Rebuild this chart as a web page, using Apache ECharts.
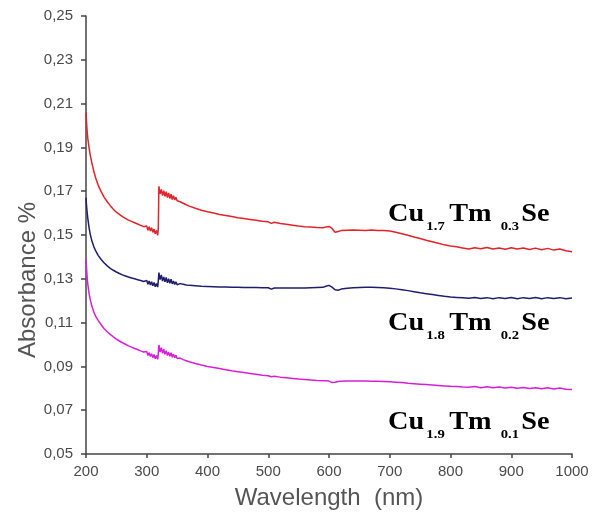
<!DOCTYPE html>
<html>
<head>
<meta charset="utf-8">
<title>Absorbance spectra</title>
<script src="https://cdn.jsdelivr.net/npm/echarts@6/dist/echarts.min.js"></script>
<style>
  html, body { margin: 0; padding: 0; background: #fff; }
  #chart { width: 595px; height: 515px; }
</style>
</head>
<body>
<div id="chart"></div>
<script>
// Wavelength grid (nm), shared by the three spectra
const wavelength = [
  200, 201, 202, 203, 205, 207, 210, 213, 216, 220, 225, 230, 235, 240, 245, 250, 255, 260, 265, 270, 275, 280, 285, 290, 295,
  300, 302, 304, 306, 308, 310, 312, 314, 316, 318, 319, 320, 322, 324, 326, 328, 330, 332, 334, 336, 338, 340, 342, 344, 346, 348, 350,
  355, 360, 365, 370, 380, 390, 400, 410, 420, 430, 440, 450, 460, 470, 480, 490, 500, 505, 510, 520, 530, 540, 550, 560, 570, 580, 590, 595,
  600, 605, 610, 615, 620, 630, 640, 650, 660, 670, 680, 690, 700, 710, 720, 730, 740, 750, 760, 770, 780, 790,
  800, 810, 820, 830, 840, 850, 860, 870, 880, 890, 900, 910, 920, 930, 940, 950, 960, 970, 980, 990, 1000
];

// Cu1.7Tm0.3Se absorbance
const cu17tm03 = [
  0.2060, 0.2010, 0.1970, 0.1940, 0.1900, 0.1865, 0.1825, 0.1790, 0.1760, 0.1728, 0.1698, 0.1672, 0.1652, 0.1634, 0.1618, 0.1604, 0.1594, 0.1584, 0.1576, 0.1568, 0.1562, 0.1556, 0.1550, 0.1544, 0.1538,
  0.1541, 0.1522, 0.1538, 0.1518, 0.1533, 0.1512, 0.1527, 0.1506, 0.1521, 0.1498, 0.1530, 0.1722, 0.1688, 0.1708, 0.1680, 0.1702, 0.1676, 0.1698, 0.1671, 0.1692, 0.1667, 0.1686, 0.1662, 0.1680, 0.1660, 0.1672, 0.1656,
  0.1652, 0.1645, 0.1638, 0.1632, 0.1622, 0.1613, 0.1606, 0.1600, 0.1594, 0.1589, 0.1584, 0.1579, 0.1575, 0.1571, 0.1567, 0.1563, 0.1560, 0.1553, 0.1558, 0.1553, 0.1549, 0.1545, 0.1541, 0.1538, 0.1536, 0.1534, 0.1533, 0.1537,
  0.1539, 0.1530, 0.1513, 0.1516, 0.1520, 0.1522, 0.1523, 0.1522, 0.1521, 0.1523, 0.1521, 0.1520, 0.1518, 0.1513, 0.1506, 0.1499, 0.1491, 0.1484, 0.1476, 0.1469, 0.1462, 0.1455,
  0.1450, 0.1446, 0.1441, 0.1436, 0.1442, 0.1437, 0.1443, 0.1436, 0.1441, 0.1435, 0.1442, 0.1436, 0.1441, 0.1434, 0.1440, 0.1433, 0.1439, 0.1431, 0.1436, 0.1428, 0.1424
];

// Cu1.8Tm0.2Se absorbance
const cu18tm02 = [
  0.1670, 0.1630, 0.1600, 0.1575, 0.1535, 0.1503, 0.1470, 0.1446, 0.1427, 0.1407, 0.1388, 0.1372, 0.1359, 0.1348, 0.1339, 0.1331, 0.1324, 0.1318, 0.1313, 0.1308, 0.1304, 0.1300, 0.1296, 0.1292, 0.1288,
  0.1292, 0.1275, 0.1290, 0.1272, 0.1287, 0.1268, 0.1283, 0.1264, 0.1279, 0.1262, 0.1290, 0.1328, 0.1296, 0.1318, 0.1290, 0.1308, 0.1286, 0.1306, 0.1282, 0.1300, 0.1279, 0.1298, 0.1277, 0.1290, 0.1274, 0.1286, 0.1273,
  0.1278, 0.1275, 0.1272, 0.1270, 0.1268, 0.1266, 0.1265, 0.1264, 0.1263, 0.1262, 0.1261, 0.1261, 0.1260, 0.1260, 0.1260, 0.1259, 0.1259, 0.1253, 0.1258, 0.1258, 0.1258, 0.1258, 0.1258, 0.1258, 0.1259, 0.1260, 0.1261, 0.1266,
  0.1270, 0.1262, 0.1250, 0.1248, 0.1253, 0.1257, 0.1259, 0.1260, 0.1261, 0.1261, 0.1260, 0.1259, 0.1257, 0.1254, 0.1250, 0.1246, 0.1241, 0.1236, 0.1232, 0.1228, 0.1224, 0.1220,
  0.1217, 0.1215, 0.1213, 0.1211, 0.1215, 0.1210, 0.1214, 0.1209, 0.1214, 0.1210, 0.1215, 0.1209, 0.1214, 0.1210, 0.1215, 0.1209, 0.1214, 0.1210, 0.1214, 0.1209, 0.1212
];

// Cu1.9Tm0.1Se absorbance
const cu19tm01 = [
  0.1390, 0.1345, 0.1305, 0.1275, 0.1235, 0.1205, 0.1172, 0.1148, 0.1128, 0.1110, 0.1090, 0.1072, 0.1058, 0.1046, 0.1035, 0.1025, 0.1016, 0.1008, 0.1001, 0.0994, 0.0988, 0.0982, 0.0977, 0.0971, 0.0966,
  0.0968, 0.0950, 0.0963, 0.0945, 0.0958, 0.0940, 0.0954, 0.0935, 0.0950, 0.0932, 0.0958, 0.0998, 0.0966, 0.0985, 0.0960, 0.0978, 0.0955, 0.0972, 0.0950, 0.0966, 0.0946, 0.0962, 0.0942, 0.0956, 0.0940, 0.0951, 0.0936,
  0.0938, 0.0931, 0.0926, 0.0921, 0.0913, 0.0906, 0.0900, 0.0895, 0.0890, 0.0885, 0.0880, 0.0876, 0.0872, 0.0868, 0.0864, 0.0860, 0.0857, 0.0853, 0.0855, 0.0851, 0.0848, 0.0845, 0.0842, 0.0840, 0.0838, 0.0836, 0.0835, 0.0834,
  0.0833, 0.0826, 0.0828, 0.0831, 0.0832, 0.0833, 0.0833, 0.0833, 0.0833, 0.0832, 0.0832, 0.0831, 0.0830, 0.0828, 0.0826, 0.0823, 0.0821, 0.0819, 0.0817, 0.0815, 0.0813, 0.0811,
  0.0809, 0.0808, 0.0806, 0.0805, 0.0808, 0.0803, 0.0807, 0.0802, 0.0806, 0.0801, 0.0805, 0.0800, 0.0804, 0.0799, 0.0803, 0.0798, 0.0802, 0.0797, 0.0801, 0.0796, 0.0795
];

// Axis ticks
const yTicks = [0.05, 0.07, 0.09, 0.11, 0.13, 0.15, 0.17, 0.19, 0.21, 0.23, 0.25];
const xTicks = [200, 300, 400, 500, 600, 700, 800, 900, 1000];

const pairs = (ys) => wavelength.map((w, i) => [w, ys[i]]);

// Sample name with subscripted stoichiometry
function formula(a, b) {
  return '{m|Cu}{s1|' + a + '}{m|Tm}{s2|' + b + '}{m|Se}';
}
const mainStyle = { fontFamily: 'Liberation Serif', fontWeight: 'bold', fontSize: 25, lineHeight: 36, color: '#111', verticalAlign: 'middle' };
const subStyle = { fontFamily: 'Liberation Serif', fontWeight: 'bold', fontSize: 13, lineHeight: 13, color: '#111', verticalAlign: 'bottom' };
const formulaRich = {
  m: mainStyle,
  s1: Object.assign({ padding: [0, 4, 0, 2] }, subStyle),
  s2: Object.assign({ padding: [0, 2, 0, 8] }, subStyle)
};

const chart = echarts.init(document.getElementById('chart'), null, { renderer: 'canvas' });

const axisText = { fontFamily: 'Liberation Sans', fontSize: 15, color: '#4a4a4a' };

function formulaLabel(y, a, b) {
  return {
    type: 'text', x: 388, y: y, scaleX: 1.13,
    style: { text: formula(a, b), rich: formulaRich, verticalAlign: 'middle' }
  };
}

chart.setOption({
  animation: false,
  backgroundColor: '#ffffff',
  grid: { left: 86, right: 23, top: 16, bottom: 61, containLabel: false },
  xAxis: {
    type: 'value',
    min: 200,
    max: 1000,
    interval: 100,
    name: 'Wavelength  (nm)',
    nameLocation: 'middle',
    nameGap: 32,
    nameTextStyle: { fontFamily: 'Liberation Sans', fontSize: 24, color: '#555' },
    axisLine: { show: true, lineStyle: { color: '#444', width: 1.5 } },
    axisTick: { show: true, inside: false, length: 4, lineStyle: { color: '#444', width: 1.5 }, customValues: xTicks },
    axisLabel: Object.assign({ margin: 10, customValues: xTicks, formatter: (v) => String(v) }, axisText),
    splitLine: { show: false }
  },
  yAxis: {
    type: 'value',
    min: 0.05,
    max: 0.25,
    axisLine: { show: true, lineStyle: { color: '#444', width: 1.5 } },
    axisTick: { show: true, inside: false, length: 5, lineStyle: { color: '#444', width: 1.5 }, customValues: yTicks },
    axisLabel: Object.assign({
      margin: 13,
      customValues: yTicks,
      formatter: (v) => v.toFixed(2).replace('.', ',')
    }, axisText),
    splitLine: { show: false }
  },
  series: [
    { name: 'Cu1.7Tm0.3Se', type: 'line', data: pairs(cu17tm03), showSymbol: false, lineStyle: { color: '#e3232a', width: 1.5 }, itemStyle: { color: '#e3232a' } },
    { name: 'Cu1.8Tm0.2Se', type: 'line', data: pairs(cu18tm02), showSymbol: false, lineStyle: { color: '#1e1e6e', width: 1.5 }, itemStyle: { color: '#1e1e6e' } },
    { name: 'Cu1.9Tm0.1Se', type: 'line', data: pairs(cu19tm01), showSymbol: false, lineStyle: { color: '#d81fd8', width: 1.5 }, itemStyle: { color: '#d81fd8' } }
  ],
  graphic: [
    {
      type: 'text', x: 28, y: 280, rotation: Math.PI / 2,
      style: { text: 'Absorbance %', fontFamily: 'Liberation Sans', fontSize: 24, fill: '#555', align: 'center', verticalAlign: 'middle' }
    },
    formulaLabel(215, '1.7', '0.3'),
    formulaLabel(324, '1.8', '0.2'),
    formulaLabel(423, '1.9', '0.1')
  ]
});
</script>
</body>
</html>
